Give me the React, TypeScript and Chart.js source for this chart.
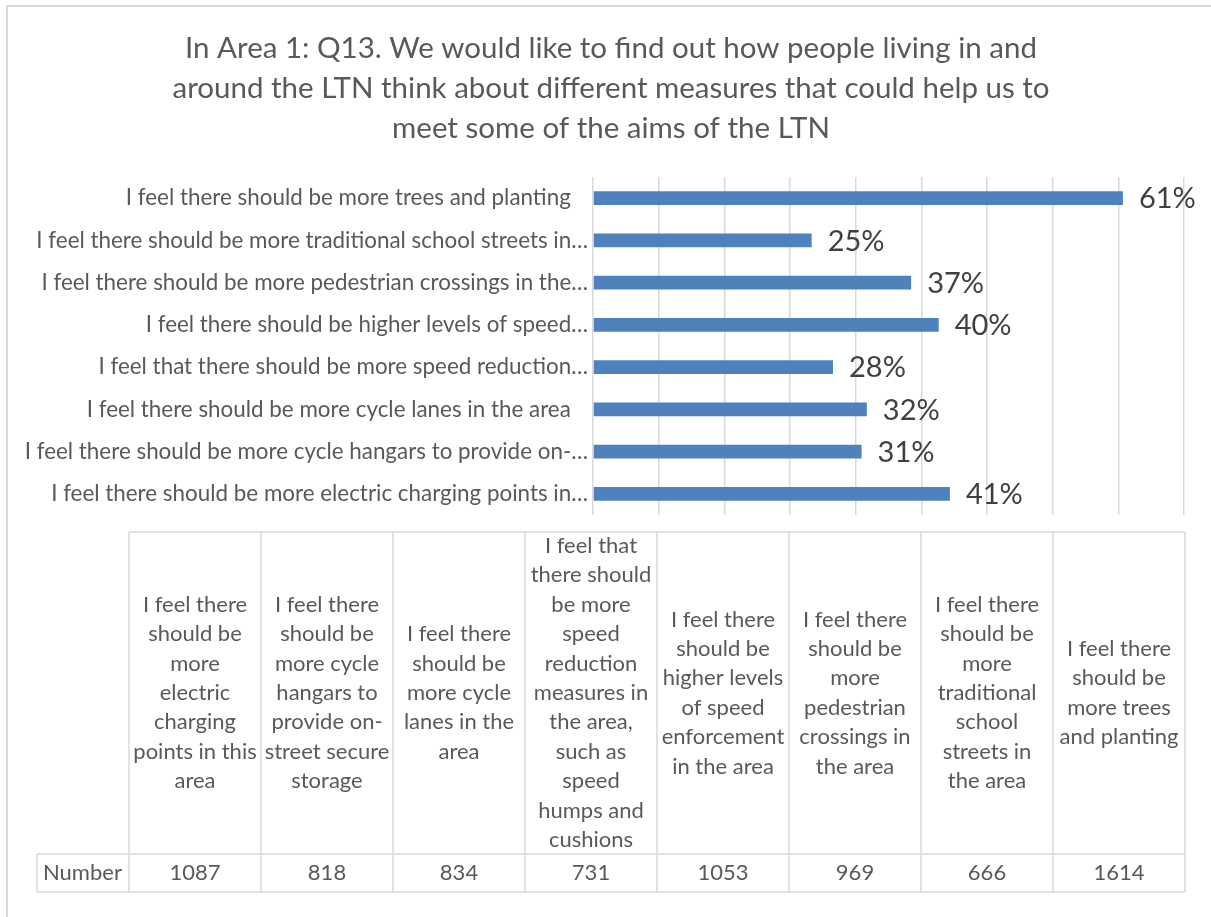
import React, { useEffect, useRef } from "react";
import { Chart, registerables } from "chart.js";

Chart.register(...registerables);

const titleLines = [
  "In Area 1: Q13. We would like to find out how people living in and",
  "around the LTN think about different measures that could help us to",
  "meet some of the aims of the LTN",
];

// Category order as in the data table (left to right); the bar axis shows the first one at the bottom.
const categories = [
  "I feel there should be more electric charging points in this area",
  "I feel there should be more cycle hangars to provide on-street secure storage",
  "I feel there should be more cycle lanes in the area",
  "I feel that there should be more speed reduction measures in the area, such as speed humps and cushions",
  "I feel there should be higher levels of speed enforcement in the area",
  "I feel there should be more pedestrian crossings in the area",
  "I feel there should be more traditional school streets in the area",
  "I feel there should be more trees and planting",
];

const axisLabels = [
  "I feel there should be more electric charging points in\u2026",
  "I feel there should be more cycle hangars to provide on-\u2026",
  "I feel there should be more cycle lanes in the area   ",
  "I feel that there should be more speed reduction\u2026",
  "I feel there should be higher levels of speed\u2026",
  "I feel there should be more pedestrian crossings in the\u2026",
  "I feel there should be more traditional school streets in\u2026",
  "I feel there should be more trees and planting   ",
];

const counts = [1087, 818, 834, 731, 1053, 969, 666, 1614];
const percentLabels = ["41%", "31%", "32%", "28%", "40%", "37%", "25%", "61%"];

const tableHeaderLines = [
  ["I feel there", "should be", "more", "electric", "charging", "points in this", "area"],
  ["I feel there", "should be", "more cycle", "hangars to", "provide on-", "street secure", "storage"],
  ["I feel there", "should be", "more cycle", "lanes in the", "area"],
  ["I feel that", "there should", "be more", "speed", "reduction", "measures in", "the area,", "such as", "speed", "humps and", "cushions"],
  ["I feel there", "should be", "higher levels", "of speed", "enforcement", "in the area"],
  ["I feel there", "should be", "more", "pedestrian", "crossings in", "the area"],
  ["I feel there", "should be", "more", "traditional", "school", "streets in", "the area"],
  ["I feel there", "should be", "more trees", "and planting"],
];
const tableRowLabel = "Number";

const xMin = 0;
const xMax = 1800;
const xStep = 200;

const FONT = "Lato, 'Open Sans', sans-serif";
const TEXT = "#595959";
const LINE = "#D9D9D9";

const decorPlugin = {
  id: "decor",
  beforeDraw(chart: any) {
    const ctx = chart.ctx;
    ctx.save();
    ctx.fillStyle = "#ffffff";
    ctx.fillRect(0, 0, chart.width, chart.height);
    ctx.restore();
  },
  afterDatasetsDraw(chart: any) {
    const ctx = chart.ctx;
    const meta = chart.getDatasetMeta(0);
    ctx.save();
    ctx.fillStyle = "#404040";
    ctx.font = `29px ${FONT}`;
    ctx.textAlign = "left";
    ctx.textBaseline = "middle";
    meta.data.forEach((bar: any, i: number) => {
      ctx.fillText(percentLabels[i], bar.x + 16, bar.y + 1);
    });
    ctx.restore();
  },
  afterDraw(chart: any) {
    const ctx = chart.ctx;
    const { right, bottom } = chart.chartArea;
    ctx.save();
    // chart area border
    ctx.strokeStyle = LINE;
    ctx.lineWidth = 2;
    ctx.beginPath();
    ctx.moveTo(7, chart.height + 5);
    ctx.lineTo(7, 6);
    ctx.lineTo(chart.width + 5, 6);
    ctx.stroke();

    // title
    ctx.fillStyle = TEXT;
    ctx.font = `29.5px ${FONT}`;
    ctx.textAlign = "center";
    ctx.textBaseline = "middle";
    titleLines.forEach((t, i) => ctx.fillText(t, 611, 48 + i * 40));

    // data table
    const n = categories.length;
    const tableLeft = 129;
    const tableRight = right + 1;
    const colW = (tableRight - tableLeft) / n;
    const top = bottom + 17;
    const mid = top + 322;
    const bot = mid + 38;
    const labelLeft = 37;
    ctx.strokeStyle = LINE;
    ctx.lineWidth = 1.5;
    ctx.beginPath();
    ctx.moveTo(tableLeft, top);
    ctx.lineTo(tableRight, top);
    ctx.moveTo(labelLeft, mid);
    ctx.lineTo(tableRight, mid);
    ctx.moveTo(labelLeft, bot);
    ctx.lineTo(tableRight, bot);
    ctx.moveTo(labelLeft, mid);
    ctx.lineTo(labelLeft, bot);
    for (let i = 0; i <= n; i++) {
      const x = tableLeft + i * colW;
      ctx.moveTo(x, top);
      ctx.lineTo(x, bot);
    }
    ctx.stroke();

    ctx.fillStyle = TEXT;
    ctx.font = `22px ${FONT}`;
    ctx.textBaseline = "middle";
    ctx.textAlign = "left";
    ctx.fillText(tableRowLabel, labelLeft + 6, (mid + bot) / 2);
    ctx.textAlign = "center";
    const lh = 29.4;
    for (let i = 0; i < n; i++) {
      const cx = tableLeft + (i + 0.5) * colW;
      const lines = tableHeaderLines[i];
      const cy = (top + mid) / 2;
      const start = cy - ((lines.length - 1) * lh) / 2;
      lines.forEach((l, j) => ctx.fillText(l, cx, start + j * lh));
      ctx.fillText(String(counts[i]), cx, (mid + bot) / 2);
    }
    ctx.restore();
  },
};

export default function App() {
  const ref = useRef<HTMLCanvasElement>(null);
  useEffect(() => {
    if (!ref.current) return;
    const chart = new Chart(ref.current, {
      type: "bar",
      data: {
        labels: axisLabels,
        datasets: [
          {
            label: "Number",
            data: counts,
            backgroundColor: "#4F81BD",
            borderWidth: 0,
            barPercentage: 0.33,
            categoryPercentage: 1,
          },
        ],
      },
      options: {
        indexAxis: "y",
        responsive: false,
        animation: false,
        devicePixelRatio: 1,
        layout: { padding: { top: 177, bottom: 402, left: 0, right: 27 } },
        plugins: {
          legend: { display: false },
          title: { display: false },
          tooltip: { enabled: false },
        },
        scales: {
          x: {
            type: "linear",
            min: xMin,
            max: xMax,
            ticks: { display: false, stepSize: xStep },
            grid: { color: LINE, lineWidth: 1.5, drawTicks: false },
            border: { display: false },
            afterFit(scale: any) {
              scale.height = 0;
            },
          },
          y: {
            type: "category",
            reverse: true,
            grid: { display: false, drawTicks: false },
            border: { display: false },
            ticks: {
              color: TEXT,
              autoSkip: false,
              padding: 5,
              font: { family: FONT, size: 22.4 },
            },
            afterFit(scale: any) {
              scale.width = 593;
            },
          },
        },
      },
      plugins: [decorPlugin],
    } as any);
    return () => chart.destroy();
  }, []);
  return (
    <div style={{ position: "fixed", left: 0, top: 0, width: 1211, height: 917 }}>
      <canvas ref={ref} width={1211} height={917} />
    </div>
  );
}
